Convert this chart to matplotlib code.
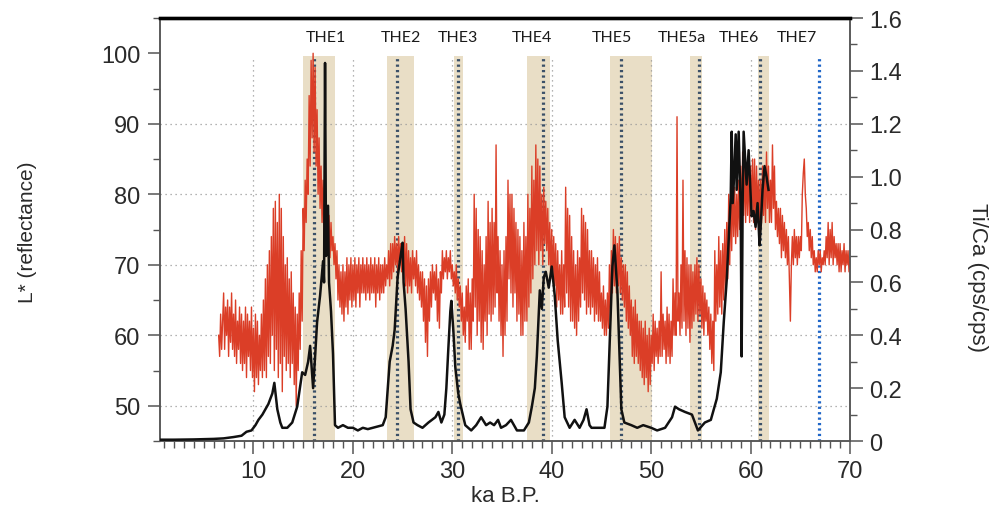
import numpy as np
import matplotlib.pyplot as plt
from matplotlib.ticker import MultipleLocator, FuncFormatter

# L* (reflectance), red, sampled every 0.1 ka from 6.5 ka
red_start = 6.5
red_step = 0.1
lstar = [60, 57, 63, 58, 62,
         66, 58, 64, 60, 65, 57, 64, 59, 66, 58,   # 7
         63, 57, 65, 56, 62, 58, 64, 56, 63, 55,   # 8
         62, 56, 64, 54, 63, 57, 62, 55, 64, 54,   # 9
         61, 52, 63, 54, 62, 53, 60, 55, 63, 54,   # 10
         65, 55, 68, 54, 70, 57, 72, 56, 74, 60,   # 11
         78, 55, 79, 58, 76, 54, 80, 56, 78, 52,   # 12
         74, 57, 70, 55, 71, 56, 68, 54, 69, 56,   # 13
         66, 53, 64, 50, 63, 55, 66, 58, 72, 62,   # 14
         78, 72, 82, 76, 85, 80, 94, 84, 99, 88,   # 15
         100, 86, 98, 84, 92, 80, 88, 78, 84, 76,  # 16
         82, 74, 80, 72, 78, 73, 77, 71, 76, 72,   # 17
         74, 70, 73, 68, 72, 65, 70, 64, 69, 63,   # 18
         70, 62, 69, 64, 71, 63, 70, 65, 71, 64,   # 19
         70, 65, 71, 64, 70, 66, 71, 64, 70, 66,   # 20
         71, 66, 70, 65, 71, 66, 70, 65, 71, 66,   # 21
         70, 66, 71, 64, 70, 66, 71, 65, 70, 66,   # 22
         70, 66, 71, 67, 70, 68, 72, 67, 73, 68,   # 23
         73, 69, 74, 70, 73, 69, 74, 70, 73, 69,   # 24
         73, 68, 74, 67, 73, 66, 72, 67, 71, 66,   # 25
         72, 68, 71, 67, 72, 66, 70, 65, 69, 64,   # 26
         69, 62, 68, 59, 67, 57, 68, 62, 69, 64,   # 27
         70, 66, 69, 65, 70, 62, 68, 61, 69, 66,   # 28
         72, 68, 71, 69, 72, 68, 71, 69, 72, 68,   # 29
         70, 67, 69, 66, 70, 65, 68, 64, 67, 62,   # 30
         66, 60, 64, 59, 67, 62, 68, 58, 66, 58,   # 31
         68, 62, 80, 64, 78, 60, 75, 62, 74, 59,   # 32
         72, 58, 70, 62, 74, 60, 79, 63, 76, 62,   # 33
         78, 63, 76, 64, 87, 66, 74, 62, 72, 60,   # 34
         70, 57, 72, 60, 74, 62, 82, 68, 80, 66,   # 35
         80, 64, 78, 66, 76, 62, 75, 63, 74, 60,   # 36
         72, 60, 76, 62, 74, 62, 80, 64, 78, 66,   # 37
         84, 68, 82, 70, 87, 72, 85, 70, 84, 72,   # 38
         80, 70, 81, 73, 79, 72, 78, 70, 76, 68,   # 39
         75, 68, 74, 67, 73, 64, 72, 65, 70, 63,   # 40
         72, 63, 70, 64, 81, 66, 78, 64, 77, 62,   # 41
         74, 62, 72, 61, 70, 60, 72, 62, 71, 64,   # 42
         78, 66, 77, 65, 76, 63, 75, 64, 72, 63,   # 43
         72, 64, 71, 62, 70, 63, 71, 62, 69, 62,   # 44
         66, 61, 67, 60, 65, 60, 66, 61, 70, 62,   # 45
         72, 66, 75, 67, 74, 66, 73, 67, 74, 66,   # 46
         71, 65, 70, 64, 70, 62, 69, 61, 67, 60,   # 47
         65, 57, 64, 56, 65, 57, 63, 56, 62, 55,   # 48
         62, 54, 61, 53, 62, 54, 60, 52, 61, 53,   # 49
         60, 56, 63, 55, 62, 57, 61, 56, 62, 57,   # 50
         69, 57, 63, 58, 62, 56, 64, 57, 63, 56,   # 51
         62, 57, 68, 60, 66, 60, 91, 62, 66, 60,   # 52
         70, 61, 82, 62, 72, 60, 71, 61, 70, 59,   # 53
         70, 61, 69, 62, 70, 63, 71, 62, 70, 63,   # 54
         68, 61, 67, 60, 66, 62, 65, 60, 64, 58,   # 55
         63, 56, 62, 55, 72, 62, 70, 63, 74, 64,   # 56
         72, 63, 73, 65, 75, 66, 76, 68, 80, 70,   # 57
         80, 72, 82, 74, 81, 73, 80, 74, 82, 75,   # 58
         84, 76, 86, 77, 85, 76, 84, 77, 85, 76,   # 59
         84, 77, 85, 76, 85, 75, 84, 77, 82, 76,   # 60
         82, 76, 84, 77, 83, 76, 86, 78, 84, 76,   # 61
         82, 76, 87, 78, 84, 75, 79, 74, 78, 73,   # 62
         78, 71, 77, 72, 76, 71, 75, 70, 74, 68,   # 63
         62, 70, 74, 70, 75, 71, 74, 70, 74, 71,   # 64
         74, 72, 80, 83, 85, 80, 78, 74, 76, 72,   # 65
         75, 71, 74, 70, 72, 69, 71, 69, 72, 70,   # 66
         72, 69, 71, 70, 72, 70, 74, 71, 76, 70,   # 67
         75, 71, 76, 70, 74, 71, 73, 70, 73, 69,   # 68
         73, 69, 72, 70, 73, 69, 72, 70, 72, 69,   # 69
         71]
red_ka = red_start + red_step * np.arange(len(lstar))

# Ti/Ca (cps/cps), black
tica_ka = [0.6, 2, 4, 6, 7, 8, 8.8, 9.3, 9.8, 10.2, 10.5, 10.9, 11.2, 11.5, 11.9, 12.1,
           12.4, 12.7, 12.9, 13.4, 13.9, 14.4, 14.9, 15.2, 15.5, 15.7, 16.0, 16.2, 16.4,
           16.7, 17.0, 17.1, 17.2, 17.3, 17.5, 17.6, 17.8, 18.0, 18.2, 18.5, 19, 19.5, 20,
           20.5, 21, 21.5, 22, 22.5, 23, 23.3, 23.7, 24.0, 24.2, 24.5, 24.8, 25.0, 25.1,
           25.3, 25.6, 25.8, 26.1, 26.5, 27, 27.6, 28.3, 28.6, 28.9, 29.2, 29.4, 29.6,
           29.8, 29.9, 30.1, 30.3, 30.6, 30.8, 31.3, 31.9, 32.4, 32.9, 33.4, 33.8, 34.2,
           34.6, 34.9, 35.4, 35.9, 36.5, 37.2, 37.7, 38.0, 38.3, 38.5, 38.8, 39.0, 39.2,
           39.4, 39.7, 40.0, 40.3, 40.6, 41.0, 41.3, 41.8, 42.3, 42.8, 43.2, 43.5, 43.8,
           44.0, 44.6, 45.3, 45.6, 45.9, 46.1, 46.3, 46.6, 47.0, 47.3, 48.0, 48.6, 49.2,
           50, 50.6, 51.4, 52.1, 52.4, 52.8, 53.4, 54.1, 54.7, 55.4, 56.0, 56.6, 57.0,
           57.3, 57.6, 58.0, 58.1, 58.2, 58.3, 58.5, 58.6, 58.8, 59.0, 59.1, 59.2, 59.3,
           59.6, 59.8, 60.1, 60.3, 60.5, 60.7, 60.9, 61.0, 61.2, 61.4, 61.6, 61.8]
tica = [0.005, 0.005, 0.006, 0.008, 0.01, 0.015, 0.02, 0.035, 0.04, 0.06, 0.08, 0.1, 0.12,
        0.14, 0.18, 0.22, 0.12, 0.07, 0.05, 0.05, 0.07, 0.13, 0.26, 0.25, 0.3, 0.36, 0.2,
        0.32, 0.45, 0.55, 0.68, 0.6, 1.43, 0.7, 0.89, 0.6, 0.49, 0.33, 0.06, 0.05, 0.06,
        0.05, 0.05, 0.04, 0.05, 0.045, 0.05, 0.055, 0.06, 0.09, 0.3, 0.36, 0.42, 0.62, 0.7,
        0.75, 0.6, 0.5, 0.3, 0.12, 0.07, 0.06, 0.05, 0.07, 0.09, 0.11, 0.07, 0.1, 0.2, 0.35,
        0.49, 0.53, 0.42, 0.28, 0.18, 0.14, 0.06, 0.04, 0.06, 0.09, 0.06, 0.07, 0.06, 0.08,
        0.05, 0.06, 0.08, 0.04, 0.04, 0.07, 0.13, 0.2, 0.32, 0.57, 0.5, 0.62, 0.64, 0.58,
        0.66, 0.55, 0.38, 0.22, 0.09, 0.05, 0.08, 0.05, 0.08, 0.12, 0.06, 0.05, 0.05, 0.05,
        0.13, 0.45, 0.66, 0.74, 0.57, 0.12, 0.07, 0.06, 0.05, 0.06, 0.05, 0.04, 0.05, 0.09,
        0.13, 0.12, 0.11, 0.1, 0.04, 0.07, 0.08, 0.16, 0.26, 0.45, 0.61, 0.92, 1.17, 0.9,
        0.97, 1.16, 0.95, 1.17, 0.89, 0.32, 0.9, 1.17, 0.97, 1.1, 0.85, 0.87, 0.81, 0.9,
        0.74, 0.8, 0.95, 1.04, 1.0, 0.95]

# THE events: label, band start, band end, marker line
events = ["THE1", "THE2", "THE3", "THE4", "THE5", "THE5a", "THE6", "THE7"]
band_lo = [15.0, 23.4, 30.2, 37.5, 45.9, 53.9, 60.7, None]
band_hi = [18.2, 26.1, 31.1, 39.8, 50.1, 55.1, 61.9, None]
marker_ka = [16.1, 24.4, 30.6, 39.1, 47.0, 54.8, 60.9, 66.9]
label_ka = [17.3, 24.8, 30.6, 38.0, 46.0, 53.1, 58.8, 64.7]

fig = plt.figure(figsize=(10.05, 5.10), dpi=100)
ax = fig.add_axes([0.1592, 0.1333, 0.6866, 0.8294])
ax2 = ax.twinx()

ax.set_xlim(0.6, 70)
ax.set_ylim(45, 105)
ax2.set_ylim(0, 1.6)

band_top = 99.6
for lo, hi in zip(band_lo, band_hi):
    if lo is not None:
        ax.fill_between([lo, hi], 45, band_top, color='#e9dec6', lw=0, zorder=0.5)

# dotted grid
for g in [10, 20, 30, 40, 50, 60]:
    ax.plot([g, g], [45, band_top], color='#9a9a9a', lw=0.9, ls=(0, (1, 3)), zorder=1)
for g in [50, 60, 70, 80, 90]:
    ax.plot([0.6, 70], [g, g], color='#9a9a9a', lw=0.9, ls=(0, (1, 3)), zorder=1)

for name, m in zip(events, marker_ka):
    col = '#1f66c8' if name == "THE7" else '#3b5068'
    ax.plot([m, m], [45, band_top], color=col, lw=2.3, ls=(0, (0.7, 1.0)), zorder=2)

for name, lx in zip(events, label_ka):
    ax.text(lx, 102.3, name, ha='center', va='center', fontsize=11.5,
            family=['Lato', 'DejaVu Sans'], color='#1a1a1a')

ax.plot(red_ka, lstar, color='#db3e27', lw=1.0, zorder=3)
ax2.plot(tica_ka, tica, color='#111111', lw=1.8, zorder=4)

# ticks
ax.xaxis.set_minor_locator(MultipleLocator(1))
ax.yaxis.set_minor_locator(MultipleLocator(5))
ax2.yaxis.set_major_locator(MultipleLocator(0.2))
ax2.yaxis.set_minor_locator(MultipleLocator(0.1))
ax.set_yticks([50, 60, 70, 80, 90, 100])
ax.set_xticks([10, 20, 30, 40, 50, 60, 70])
ax2.yaxis.set_major_formatter(FuncFormatter(lambda v, p: '0' if abs(v) < 1e-9 else '%.1f' % v))

for a in (ax, ax2):
    a.tick_params(which='major', length=9, width=1.1, color='#555555', labelcolor='#2a2a2a',
                  labelsize=17, pad=5)
    a.tick_params(which='minor', length=5, width=1.0, color='#555555')
    for lab in a.get_xticklabels() + a.get_yticklabels():
        lab.set_family('Liberation Sans')
ax.tick_params(axis='y', which='both', right=False)

for a in (ax, ax2):
    for s in ['left', 'right', 'bottom']:
        a.spines[s].set_color('#555555')
        a.spines[s].set_linewidth(1.1)
    a.spines['top'].set_color('#000000')
    a.spines['top'].set_linewidth(2.4)

fig.text(0.5025, 0.026, "ka B.P.", ha='center', va='center',
         fontsize=16, family='Liberation Sans', color='#2a2a2a')
fig.text(0.027, 0.545, "L* (reflectance)", rotation=90, ha='center', va='center',
         fontsize=15, family='Liberation Sans', color='#2a2a2a')
fig.text(0.973, 0.455, "Ti/Ca (cps/cps)", rotation=270, ha='center', va='center',
         fontsize=16, family='Liberation Sans', color='#2a2a2a')

fig.savefig("out.png", dpi=100)
